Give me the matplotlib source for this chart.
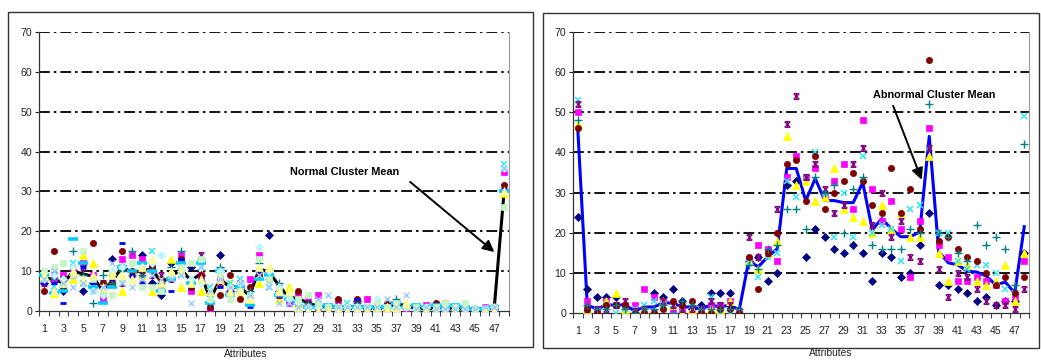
import matplotlib
matplotlib.use("Agg")
import matplotlib.pyplot as plt
from matplotlib.path import Path
from matplotlib.patches import Rectangle
import numpy as np

plt.rcParams['font.family'] = ['Liberation Sans', 'DejaVu Sans']

attributes = list(range(1, 49))
tick_labels = [str(a) for a in attributes if a % 2 == 1]

# ---------------- Normal cluster (left panel) ----------------
normal_mean = [8.2, 8, 7, 10, 9.3, 8.7, 5.1, 7.6, 11, 9.7, 10, 10.6, 7.2, 8.5, 10.6, 7.6,
               9.3, 3, 8, 6, 6, 3.9, 10.5, 9.8, 6.4, 3.5, 3.1, 2, 1.2, 1, 1, 1,
               1.2, 0.8, 1, 0.8, 1.7, 1.4, 0.6, 0.6, 0.6, 0.6, 0.5, 0.5, 0.5, 0.5, 1, 30]

n_navy = [7, 7.5, 5, 9, 5, 7, 6, 13, 11, 9, 14, 7, 4, 12, 12, 11, 9, 4, 14, 5, 7, 2, 10, 19,
          5, 3, 2, 1, 1, 1, 1, 0.5, 2.5, 0.5, 0.5, 1, 2, 1, 0.5, 0.5, 0.5, 0.5, 0.5, 1, 0.5, 0.5, 0.5, 30]
n_magenta = [8, 8, 9, 10, 12, 9, 3, 9, 13, 14, 13, 11, 6, 9, 14, 5, 9, 0, 8, 6, 6, 8, 14, 10,
             4, 2, 4, 3, 4, 1, 2, 1, 2, 3, 1, 1, 2, 0, 0.5, 1.5, 1.5, 0.5, 0.5, 0.5, 0.5, 1, 0.5, 35]
n_yellow = [8.5, 4.5, 6, 8, 14, 12, 5, 10, 5, 10, 9, 5, 7, 13, 6, 8, 5, 5, 7, 7, 4, 3, 7, 11,
            3, 6, 2, 0, 0, 0, 0.5, 0, 0.5, 0.5, 0.5, 1, 1, 2, 0, 0, 0, 0, 0, 0, 0, 0, 0, 29.5]
n_cyan = [8, 6, 7, 12, 7, 6, 7, 8, 11, 8, 9, 15, 7, 8, 9, 6, 11, 6, 10, 7, 8, 4, 9, 6,
          4, 2, 2, 1, 1, 1, 1, 2, 1, 1, 0.5, 1, 1, 1, 0.5, 1, 0.5, 0.5, 0.5, 0.5, 0.5, 0.5, 1, 37]
n_purple = [7, 9, 8, 9, 11, 8, 7, 7, 7, 8, 8, 9, 9, 8, 12, 6, 14, 1, 7, 5, 7, 4, 10, 8,
            4, 3, 2, 1.5, 1, 1, 1, 1, 2, 0.5, 0.5, 1, 1, 1, 0.5, 0.5, 0.5, 0.5, 0.5, 0.5, 0.5, 0.5, 1, 31]
n_maroon = [5, 15, 6, 9, 7, 17, 7, 7, 15, 10, 10, 11, 8, 9, 13, 6, 9, 1, 4, 9, 3, 6, 9, 9,
            6, 4, 5, 2, 1, 1, 3, 1, 3, 1, 1, 2, 1, 1, 0.5, 0.5, 2, 2, 0.5, 0.5, 0.5, 0.5, 1, 31.5]
n_teal = [9, 8, 6, 15, 9, 2, 9, 7, 10, 15, 9, 10, 7, 11, 15, 7, 13, 2, 11, 6, 5, 5, 12, 8,
          7, 4, 3, 2, 1, 1, 1, 1, 2, 0.5, 1, 1, 3, 1, 0.5, 0.5, 0.5, 0.5, 0.5, 0.5, 0.5, 0.5, 1, 30]
n_blue = [7, 7, 2, 9, 11, 7, 6, 8, 17, 9, 7, 12, 6, 5, 13, 8, 8, 3, 6, 5, 6, 1, 10, 8,
          5, 3, 3, 1, 1, 1.5, 1, 0.5, 3, 0.5, 0.5, 1, 1.5, 1, 0.5, 0.5, 0.5, 0.5, 1.5, 0.5, 0.5, 0.5, 1, 30.5]
n_sky = [9, 4.5, 5, 18, 12, 6, 2, 6, 11, 10, 12, 10, 5, 8, 12, 7, 12, 2, 10, 4, 6, 1.5, 8, 9,
         4, 3, 2, 1, 1, 1.5, 1, 1, 1, 1, 1, 1, 2, 1, 1.5, 1, 1.5, 1, 1.5, 1, 0.5, 0.5, 1, 30]
n_pale_cyan = [8, 9, 8, 11, 7, 5, 4, 10, 11, 12, 11, 12, 14, 9, 10, 8, 7, 3, 10, 6, 7, 4, 16, 10,
               6, 3, 2, 1, 1, 1, 1, 1, 1, 1, 3, 1, 1, 1, 0.5, 1, 0.5, 0.5, 0.5, 0.5, 0.5, 0.5, 1, 36]
n_pale_green = [10, 11, 12, 9, 15, 8, 5, 4, 8, 12, 6, 6, 5, 9, 11, 12, 13, 3, 9, 3, 5, 4, 13, 8,
                5, 4, 3, 4, 2, 1, 1, 1, 1, 1, 2, 1, 2, 1, 1, 0.5, 1, 2, 1, 2, 0.5, 0.5, 1, 26]
n_pale_yellow = [9, 5, 7, 10, 8, 9, 6, 9, 9, 8, 11, 13, 7, 10, 10, 7, 8, 5, 8, 5, 5, 3, 11, 11,
                 5, 5, 1, 0, 0, 0, 0.5, 0, 0.5, 0, 1, 0, 1, 2, 0, 0, 0, 0, 0, 0, 0, 0, 0, 30]
n_pale_blue = [8, 10, 7, 6, 7, 5, 6, 12, 7, 6, 8, 9, 8, 8, 9, 2, 11, 5, 8, 6, 7, 4, 9, 6,
               2, 2, 1, 1, 3, 4, 1, 1, 1, 1, 1, 3, 1, 4, 0.5, 1, 0.5, 0.5, 0.5, 0.5, 0.5, 1, 1, 36]

# ---------------- Abnormal cluster (right panel) ----------------
abnormal_mean = [46, 2, 1, 2, 2, 2, 0.5, 1.5, 1.5, 2.5, 2.5, 1.5, 1.5, 1, 2, 1.5, 2, 0.8,
                 13, 11.5, 14, 16, 36, 36, 28, 33.5, 28, 28, 27.5, 27.5, 32.5, 20.7, 23.5, 21,
                 19, 19, 20.2, 44, 15.3, 12.5, 12, 10.4, 10.2, 9.2, 7, 7.7, 5, 21.5]

a_navy = [24, 6, 4, 4, 4, 0, 0, 0, 5, 4, 6, 3, 1, 2, 5, 5, 5, 0, 13, 14, 8, 10, 32, 33,
          14, 21, 19, 16, 15, 17, 15, 8, 15, 14, 9, 10, 17, 25, 7, 7, 6, 5, 3, 4, 2, 3, 3, 15]
a_magenta = [50, 3, 1, 3, 2, 2, 2, 6, 4, 3, 1, 1, 0, 1, 2, 2, 3, 0, 13.5, 17, 16, 13, 34, 39,
             34, 36, 29, 33, 37, 26, 48, 31, 23, 28, 21, 9, 23, 46, 17, 14, 8, 8, 9, 8, 7, 3, 4, 13]
a_yellow = [47, 1, 0.5, 3, 5, 1, 0, 1, 0, 3, 2, 0, 1, 0.5, 1, 1, 3, 0, 13, 11, 15, 18, 44, 32,
            33, 28, 29, 36, 26, 24, 23, 20, 27, 21, 25, 19, 19, 39, 15, 8, 13, 12, 8, 7, 8, 12, 3, 15]
a_cyan = [53, 1, 0.5, 2, 0, 1, 1, 2, 3, 2, 2, 1, 2, 1, 4, 0, 0, 0.5, 12.5, 9, 14, 15, 33, 29,
          34, 40, 30, 19, 30, 19, 39, 20, 22, 21, 13, 26, 27, 41, 20, 20, 13, 11, 12, 12, 10, 6, 5, 49]
a_purple = [52, 1, 1, 1, 2, 3, 0.5, 1, 0, 3, 2, 1, 1, 1, 3, 2, 2, 0.5, 19, 14, 15, 26, 47, 54,
            34, 37, 31, 25, 27, 37, 41, 22, 30, 19, 23, 14, 13, 41, 11, 4, 10, 9, 6, 3, 2, 2, 1, 6]
a_maroon = [46, 1, 0, 2, 2, 2, 0, 0, 0, 1, 3, 2, 3, 0, 0, 1, 1, 0, 14, 6, 15, 20, 37, 38,
            28, 39, 26, 30, 33, 35, 33, 27, 25, 36, 25, 31, 21, 63, 18, 19, 16, 14, 13, 10, 7, 9, 5, 9]
a_teal = [48, 2, 1, 1, 2, 1, 0, 1, 1, 2, 0, 3, 2, 1, 1, 1, 1, 1, 12, 11, 16, 17, 26, 26,
          21, 34, 30, 32, 20, 31, 34, 17, 16, 16, 16, 21, 20, 52, 20, 19, 15, 13, 22, 17, 19, 16, 7, 42]

# Excel-style "star" marker: an X closed by short bars top and bottom
star_path = Path(
    [(-1, -1), (1, 1), (-1, 1), (1, -1), (-0.7, 1), (0.7, 1), (-0.7, -1), (0.7, -1), (0, -1), (0, 1)],
    [Path.MOVETO, Path.LINETO, Path.MOVETO, Path.LINETO, Path.MOVETO, Path.LINETO,
     Path.MOVETO, Path.LINETO, Path.MOVETO, Path.LINETO])

styles = {
    'navy':        dict(marker='D', ms=3.9, color='#000080', mew=0.5),
    'magenta':     dict(marker='s', ms=4.6, color='#FF00FF', mew=0.5),
    'yellow':      dict(marker='^', ms=5.3, color='#FFFF00', mew=0.5),
    'cyan':        dict(marker='x', ms=4.0, color='#33E5F0', mew=1.1),
    'purple':      dict(marker=star_path, ms=4.2, color='#800080', mew=0.9),
    'maroon':      dict(marker='o', ms=4.5, color='#800000', mew=0.5),
    'teal':        dict(marker='+', ms=5.2, color='#008080', mew=1.0),
    'blue':        dict(marker='_', ms=4.5, color='#0000FF', mew=2.0),
    'sky':         dict(marker='_', ms=6.5, color='#00CCFF', mew=2.6),
    'pale_cyan':   dict(marker='D', ms=4.0, color='#BFF7FF', mew=0.5),
    'pale_green':  dict(marker='s', ms=5.0, color='#C6F5C6', mew=0.5),
    'pale_yellow': dict(marker='^', ms=5.4, color='#FFFF99', mew=0.5),
    'pale_blue':   dict(marker='x', ms=4.0, color='#99CCFF', mew=1.0),
}

normal_series = [('navy', n_navy), ('magenta', n_magenta), ('yellow', n_yellow), ('cyan', n_cyan),
                 ('purple', n_purple), ('maroon', n_maroon), ('teal', n_teal), ('blue', n_blue),
                 ('sky', n_sky), ('pale_cyan', n_pale_cyan), ('pale_green', n_pale_green),
                 ('pale_yellow', n_pale_yellow), ('pale_blue', n_pale_blue)]
abnormal_series = [('navy', a_navy), ('magenta', a_magenta), ('yellow', a_yellow), ('cyan', a_cyan),
                   ('purple', a_purple), ('maroon', a_maroon), ('teal', a_teal)]

W, H = 1041, 360
fig = plt.figure(figsize=(W / 100, H / 100), dpi=100)


def px_rect(x0, y0, x1, y1):
    return [x0 / W, 1 - y1 / H, (x1 - x0) / W, (y1 - y0) / H]


def style_axes(ax):
    ax.set_xlim(0.5, 48.5)
    ax.set_ylim(0, 70)
    ax.set_yticks(range(0, 71, 10))
    for v in range(10, 71, 10):
        ax.axhline(v, color='black', lw=1.3, linestyle=(0, (6, 2.2, 1.4, 2.2)), zorder=1)
    ax.set_xticks(attributes[::2])
    ax.set_xticklabels(tick_labels)
    ax.set_xticks(np.arange(0.5, 49, 1), minor=True)
    ax.tick_params(axis='x', which='major', length=0, pad=9, labelsize=7.6, colors='#222222')
    ax.tick_params(axis='x', which='minor', length=3.5, width=0.8, color='#444444')
    ax.tick_params(axis='y', length=3, width=0.8, pad=2, labelsize=7.6, colors='#222222')
    ax.spines['top'].set_visible(False)
    ax.spines['right'].set_color('#999999')
    ax.spines['right'].set_linewidth(0.8)
    for s in ('left', 'bottom'):
        ax.spines[s].set_color('#333333')
        ax.spines[s].set_linewidth(0.9)


# Left panel
axl = fig.add_axes(px_rect(39, 32, 509, 311))
style_axes(axl)
axl.plot(attributes, normal_mean, color='black', lw=2.2, zorder=2)
for key, vals in normal_series:
    st = styles[key]
    axl.plot(attributes, vals, linestyle='none', marker=st['marker'], ms=st['ms'],
             color=st['color'], mec=st['color'], mew=st['mew'], zorder=3)
axl.text(31.7, 34.9, 'Normal Cluster Mean', fontsize=7.8, fontweight='bold',
         ha='center', va='center', zorder=5)
axl.annotate('', xy=(47.0, 14.8), xytext=(38.4, 32.4),
             arrowprops=dict(arrowstyle='-|>', color='black', lw=1.4, mutation_scale=17,
                             shrinkA=0, shrinkB=0), zorder=5)

# Right panel
axr = fig.add_axes(px_rect(573, 32, 1029, 313))
style_axes(axr)
axr.plot(attributes, abnormal_mean, color='#0000FF', lw=2.2, zorder=2)
for key, vals in abnormal_series:
    st = styles[key]
    axr.plot(attributes, vals, linestyle='none', marker=st['marker'], ms=st['ms'],
             color=st['color'], mec=st['color'], mew=st['mew'], zorder=3)
axr.text(38.5, 54.4, 'Abnormal Cluster Mean', fontsize=7.8, fontweight='bold',
         ha='center', va='center', zorder=5)
axr.annotate('', xy=(37.2, 33.2), xytext=(34.2, 51.6),
             arrowprops=dict(arrowstyle='-|>', color='black', lw=1.4, mutation_scale=17,
                             shrinkA=0, shrinkB=0), zorder=5)

# Chart frames and axis titles
for (x0, y0, x1, y1) in [(8, 12, 533, 347), (543, 13, 1039, 348)]:
    fig.add_artist(Rectangle((x0 / W, 1 - y1 / H), (x1 - x0) / W, (y1 - y0) / H,
                             transform=fig.transFigure, fill=False, ec='#333333', lw=1.0))
fig.text(246 / W, 1 - 354 / H, 'Attributes', fontsize=7.4, ha='center', va='center', color='#222222')
fig.text(831 / W, 1 - 353 / H, 'Attributes', fontsize=7.4, ha='center', va='center', color='#222222')

fig.savefig('out.png', dpi=100)
